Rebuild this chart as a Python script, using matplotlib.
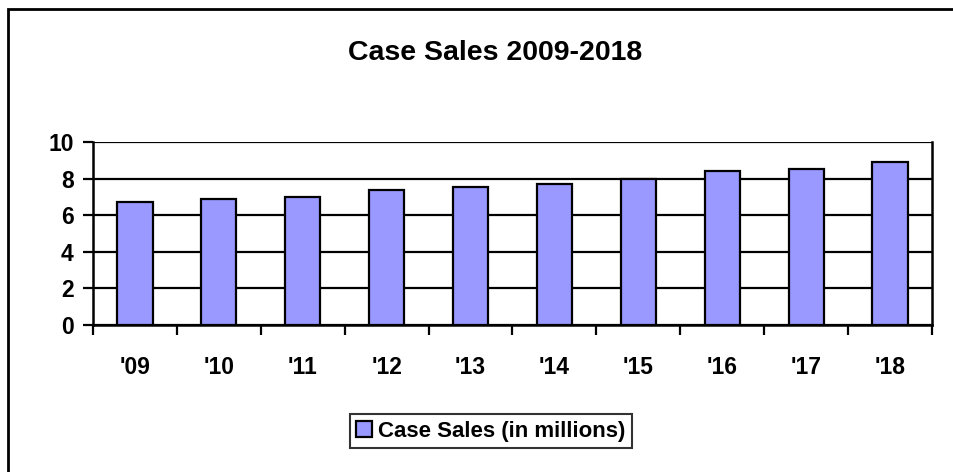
import matplotlib.pyplot as plt
import numpy as np
from matplotlib.patches import Rectangle

plt.rcParams['font.family'] = ['Liberation Sans', 'DejaVu Sans']

years = ["'09", "'10", "'11", "'12", "'13", "'14", "'15", "'16", "'17", "'18"]
sales = [6.72, 6.89, 7.0, 7.38, 7.52, 7.71, 8.0, 8.4, 8.53, 8.89]
title = "Case Sales 2009-2018"
series_name = "Case Sales (in millions)"

fig = plt.figure(figsize=(9.54, 4.72), dpi=100)
# outer chart border (only top and left fall inside the image)
fig.patches.append(Rectangle((8 / 954, -0.1), 1.2, 1.1 - 9 / 472,
                             transform=fig.transFigure, fill=False,
                             edgecolor='black', linewidth=2))

ax = fig.add_axes([93 / 954, 1 - 325 / 472, 839 / 954, 183 / 472])
x = np.arange(len(years))
ax.bar(x, sales, width=0.42, color='#9999ff', edgecolor='black',
       linewidth=1.6, zorder=3, label=series_name)

ax.set_xlim(-0.5, len(years) - 0.5)
ax.set_ylim(0, 10)
ax.set_yticks(np.arange(0, 11, 2))
ax.yaxis.grid(True, color='black', linewidth=1.6, zorder=0)
ax.set_axisbelow(True)

ax.set_xticks(x)
ax.set_xticklabels(years, fontsize=16.5, fontweight='bold')
ax.tick_params(axis='x', length=0, pad=22)
ax.set_xticks(np.arange(-0.5, len(years), 1), minor=True)
ax.tick_params(axis='x', which='minor', length=7, width=1.6, direction='out')
ax.tick_params(axis='y', length=7, width=1.6, labelsize=16.5, pad=7)
for lbl in ax.get_yticklabels():
    lbl.set_fontweight('bold')

for side in ['left', 'bottom', 'right']:
    ax.spines[side].set_linewidth(1.8)
ax.spines['top'].set_visible(False)

fig.text(495 / 954, 1 - 53 / 472, title, ha='center', va='center',
         fontsize=20.5, fontweight='bold')

leg = fig.legend(loc='center', bbox_to_anchor=(491 / 954, 1 - 431 / 472),
                 prop={'size': 16, 'weight': 'bold'}, frameon=True,
                 fancybox=False, edgecolor='black', handlelength=0.7,
                 handleheight=0.7, handletextpad=0.3, borderpad=0.3,
                 borderaxespad=0)
leg.get_frame().set_linewidth(1.5)

fig.savefig('out.png', dpi=100)
